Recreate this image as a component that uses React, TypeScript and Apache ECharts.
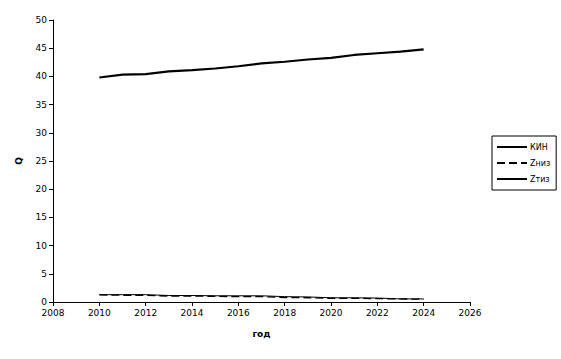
import React, { useEffect, useRef } from "react";
import * as echarts from "echarts";

const years = [2010, 2011, 2012, 2013, 2014, 2015, 2016, 2017, 2018, 2019, 2020, 2021, 2022, 2023, 2024];
const kin = [39.8, 40.3, 40.4, 40.9, 41.1, 41.4, 41.8, 42.3, 42.6, 43.0, 43.3, 43.8, 44.1, 44.4, 44.8];
const zniz = [1.25, 1.2, 1.2, 1.05, 1.05, 1.0, 0.95, 0.95, 0.8, 0.75, 0.65, 0.65, 0.6, 0.55, 0.5];
const ztiz = [1.3, 1.3, 1.3, 1.15, 1.15, 1.1, 1.1, 1.1, 0.95, 0.9, 0.75, 0.75, 0.7, 0.55, 0.55];

const font = "DejaVu Sans";

export default function App() {
  const ref = useRef<HTMLDivElement>(null);
  useEffect(() => {
    const chart = echarts.init(ref.current!, null, { renderer: "svg" });
    const pair = (arr: number[]) => years.map((y, i) => [y, arr[i]]);
    chart.setOption({
      animation: false,
      backgroundColor: "#ffffff",
      grid: { left: 53, right: 91, top: 20, bottom: 57 },
      xAxis: {
        type: "value",
        min: 2008,
        max: 2026,
        interval: 2,
        name: "год",
        nameLocation: "middle",
        nameGap: 27,
        nameTextStyle: { fontFamily: font, fontSize: 9, fontWeight: "bold", color: "#000" },
        axisLine: { lineStyle: { color: "#000", width: 1 } },
        axisTick: { show: true, length: 4, lineStyle: { color: "#000" } },
        axisLabel: { fontFamily: font, fontSize: 9, color: "#000", margin: 6, formatter: (v: number) => String(v) },
        splitLine: { show: false },
      },
      yAxis: {
        type: "value",
        min: 0,
        max: 50,
        interval: 5,
        name: "Q",
        nameLocation: "middle",
        nameGap: 30,
        nameTextStyle: { fontFamily: font, fontSize: 9, fontWeight: "bold", color: "#000" },
        axisLine: { show: true, lineStyle: { color: "#000", width: 1 } },
        axisTick: { show: true, length: 4, lineStyle: { color: "#000" } },
        axisLabel: { fontFamily: font, fontSize: 9, color: "#000", margin: 6 },
        splitLine: { show: false },
      },
      legend: {
        orient: "vertical",
        left: 492,
        top: 136,
        padding: [7, 6, 7, 4],
        itemGap: 8,
        itemWidth: 30,
        itemHeight: 8,
        borderColor: "#000",
        borderWidth: 1,
        itemStyle: { opacity: 0 },
        textStyle: { fontFamily: font, fontSize: 8, color: "#000000", padding: [0, 0, 0, -2] },
        data: ["КИН", "Zниз", "Zтиз"],
      },
      series: [
        {
          name: "КИН",
          type: "line",
          data: pair(kin),
          symbol: "none",
          lineStyle: { color: "#000", width: 2.2 },
          itemStyle: { color: "#000" },
        },
        {
          name: "Zниз",
          type: "line",
          data: pair(zniz),
          symbol: "none",
          lineStyle: { color: "#000", width: 1.3, type: [8, 4] },
          itemStyle: { color: "#000" },
        },
        {
          name: "Zтиз",
          type: "line",
          data: pair(ztiz),
          symbol: "none",
          lineStyle: { color: "#000", width: 1 },
          itemStyle: { color: "#000" },
        },
      ],
    });
    return () => chart.dispose();
  }, []);
  return <div ref={ref} style={{ width: 561, height: 359, position: "absolute", left: 0, top: 0 }} />;
}
